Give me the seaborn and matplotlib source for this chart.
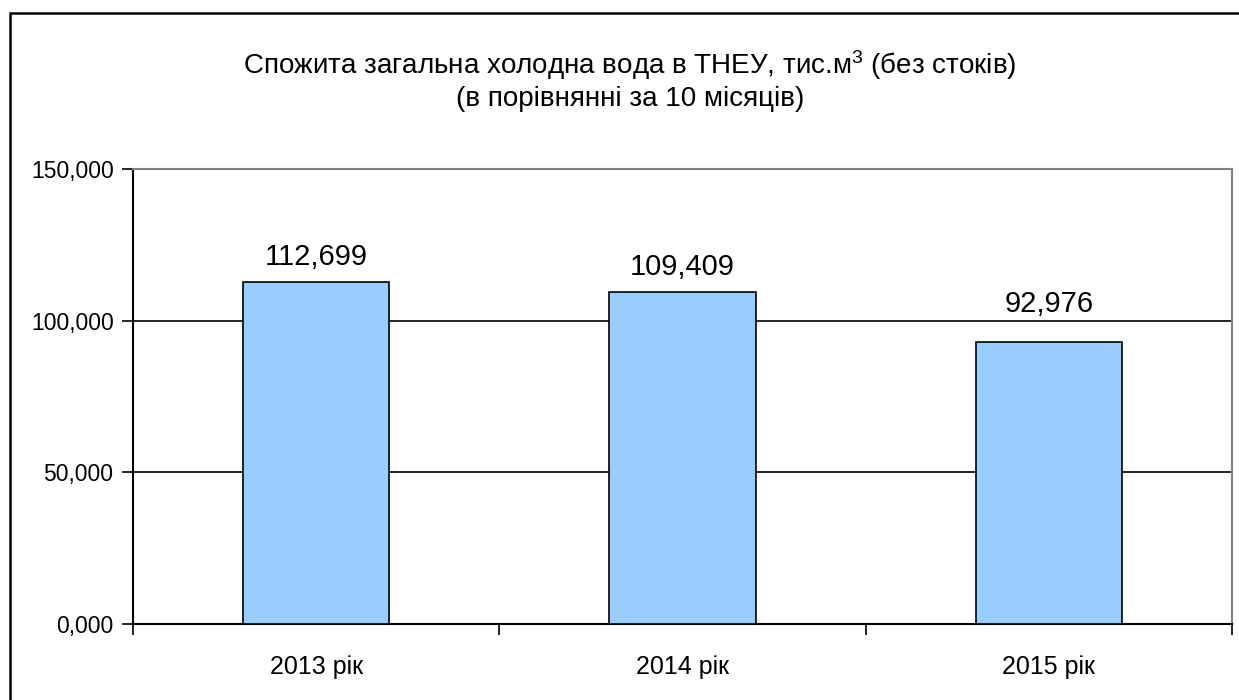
import matplotlib
matplotlib.use("Agg")
import matplotlib.pyplot as plt
from matplotlib.patches import Rectangle
import seaborn as sns
import pandas as pd

# --------------------------------------------------
# DATA
# --------------------------------------------------

years = ["2013 рік", "2014 рік", "2015 рік"]
water = [112.699, 109.409, 92.976]   # тис.м3
y_ticks = [0, 50, 100, 150]

TITLE_1 = "Спожита загальна холодна вода в ТНЕУ, тис.м$^3$ (без стоків)"
TITLE_2 = "(в порівнянні за 10 місяців)"

# label offsets above the bars (pt); last one sits higher, clear of the gridline
LABEL_OFFSETS = [18, 18, 27]

# --------------------------------------------------
# STYLE
# --------------------------------------------------

sns.set_style("white")
plt.rcParams["font.family"] = ["Liberation Sans", "DejaVu Sans"]
plt.rcParams["mathtext.fontset"] = "custom"
plt.rcParams["mathtext.rm"] = "Liberation Sans"
plt.rcParams["mathtext.it"] = "Liberation Sans"
plt.rcParams["text.color"] = "black"
plt.rcParams["xtick.color"] = "black"
plt.rcParams["ytick.color"] = "black"


def ua_fmt(v):
    # comma as decimal separator, three decimals
    return f"{v:.3f}".replace(".", ",")


df = pd.DataFrame({"year": years, "water": water})

fig = plt.figure(figsize=(12.39, 7.0), dpi=100)
ax = fig.add_axes([133 / 1239, 1 - 624 / 700, 1099 / 1239, 455 / 700])

sns.barplot(data=df, x="year", y="water", color="#99CCFF", width=0.4,
            edgecolor="black", linewidth=1.2, saturation=1, ax=ax, zorder=3)

ax.set_ylim(0, 150)
ax.set_xlim(-0.5, 2.5)
ax.set_yticks(y_ticks)
ax.set_yticklabels([ua_fmt(v) for v in y_ticks], fontsize=16.5)
ax.tick_params(axis="y", direction="out", length=8, width=1.2, color="black",
               pad=6, left=True)

# x ticks on the category boundaries, labels in the middle
ax.set_xticks([-0.5, 0.5, 1.5, 2.5])
ax.set_xticklabels([])
ax.tick_params(axis="x", which="major", direction="out", length=8, width=1.2,
               color="black", bottom=True)
ax.set_xticks(range(len(years)), minor=True)
ax.set_xticklabels(years, minor=True, fontsize=18)
ax.tick_params(axis="x", which="minor", length=0, pad=22)
ax.set_xlabel("")
ax.set_ylabel("")

for y in [50, 100]:
    ax.axhline(y, color="black", linewidth=1.2, zorder=1)

for side in ["left", "bottom"]:
    ax.spines[side].set_color("black")
    ax.spines[side].set_linewidth(1.5)
for side in ["top", "right"]:
    ax.spines[side].set_visible(True)
    ax.spines[side].set_color("#808080")
    ax.spines[side].set_linewidth(1.5)

for i, v in enumerate(water):
    ax.annotate(ua_fmt(v), xy=(i, v), xytext=(0, LABEL_OFFSETS[i]),
                textcoords="offset points", ha="center", va="center", fontsize=21)

fig.text(630 / 1239, 1 - 65 / 700, TITLE_1, ha="center", va="center", fontsize=20)
fig.text(630 / 1239, 1 - 99 / 700, TITLE_2, ha="center", va="center", fontsize=20)

# outer chart border (cut off on the right and bottom as in the source)
fig.patches.append(Rectangle((10 / 1239, -0.1), 1.2, 1.1 - 13 / 700,
                             transform=fig.transFigure, fill=False,
                             edgecolor="black", linewidth=1.8))

fig.savefig("out.png", dpi=100)
plt.close(fig)
